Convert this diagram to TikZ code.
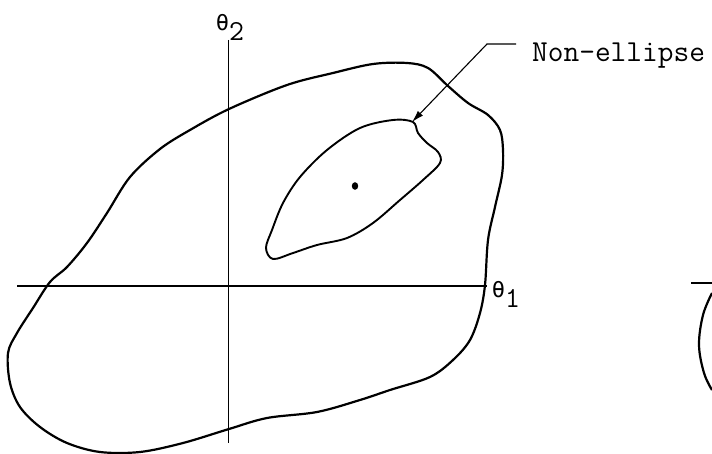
\documentclass[tikz,border=0pt]{standalone}
\usepackage{fontspec}
\newfontfamily\thetafont{DejaVu Sans Mono}
\usetikzlibrary{arrows.meta}
\tikzset{
  contour/.style={line width=2.2pt, line join=round},
  axisline/.style={line width=1.5pt},
  leader/.style={line width=1.1pt},
  lbl/.style={inner sep=0pt, font=\ttfamily\fontsize{30.5}{32}\selectfont},
  axlbl/.style={inner sep=0pt, anchor=center},
}
\begin{document}
\begin{tikzpicture}[x=1pt,y=-1pt]
\useasboundingbox (0,0) rectangle (712,454);
% axes
\coordinate (hl) at (17,286);
\coordinate (hr) at (487,286);
\coordinate (vt) at (228.5,40);
\coordinate (vb) at (228.5,443);
\draw[axisline] (hl) -- (hr);
\draw[axisline, line width=1.7pt] (vt) -- (vb);
% outer contour
\draw[contour] plot[smooth cycle, tension=0.55] coordinates {
 (333,73) (373,64) (407,63) (428,68) (448,86) (468,103) (488,115) (500,130)
 (503,150) (502,175) (495,207) (488,240) (485,285) (480,313) (470,340)
 (453,360) (430,377) (390,390) (360,400) (317,412) (267,418) (229,429)
 (183,443) (140,452) (100,452) (67,443) (40,427) (20,407) (10,383) (8,353)
 (17,333) (33,308) (50,282) (67,267) (87,243) (107,213) (130,177)
 (160,149) (190,130) (229,109) (287,85)};
% inner contour
\draw[contour, line width=1.9pt] plot[smooth cycle, tension=0.55] coordinates {
 (413,122) (393,120) (360,128) (327,150) (300,177) (283,203) (272,230)
 (266,248) (273,259) (293,253) (317,245) (347,238) (373,223) (400,200)
 (423,180) (440,163) (438,152) (427,143) (418,133)};
% centre dot
\fill (355,186) ellipse [x radius=3.2pt, y radius=3.8pt];
% right partial shape
\coordinate (rl) at (691,283);
\coordinate (rr) at (712,283);
\draw[axisline] (rl) -- (rr);
\draw[contour] plot[smooth, tension=0.6] coordinates {
 (712,293) (703,315) (699,345) (704,373) (712,390)};
% labels
\node[lbl, anchor=base west] (ne) at (532,62) {Non-ellipse};
\coordinate (k1) at (516,44);
\coordinate (k2) at (487,44);
\coordinate (tip) at (412,122);
\draw[leader, -{Latex[length=12pt,width=7pt]}] (k1) -- (k2) -- (tip);
\node[axlbl] (t2) at (230,27)
  {{\thetafont\fontsize{22}{22}\selectfont θ}\lower10pt\hbox{\fontsize{29}{29}\ttfamily 2}};
\node[axlbl] (t1) at (506,294)
  {{\thetafont\fontsize{22}{22}\selectfont θ}\lower10pt\hbox{\fontsize{29}{29}\ttfamily 1}};
\end{tikzpicture}
\end{document}
